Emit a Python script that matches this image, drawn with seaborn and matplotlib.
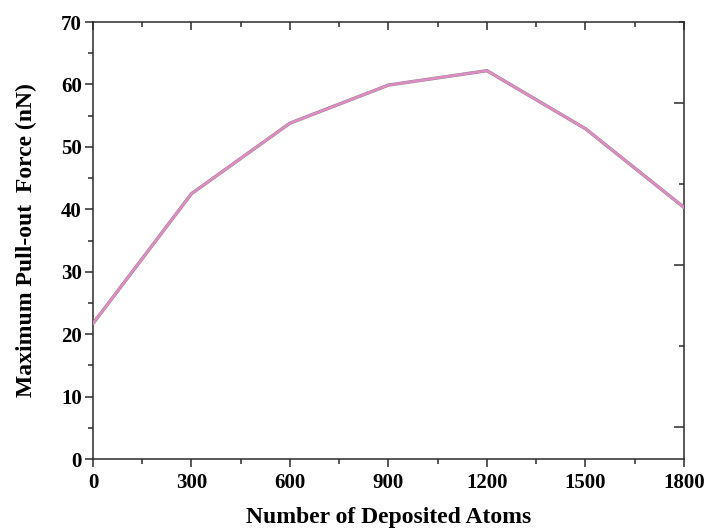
import matplotlib
matplotlib.use("Agg")
import matplotlib.pyplot as plt
import seaborn as sns
import pandas as pd
from matplotlib.ticker import MultipleLocator

# Pull-out force versus number of deposited atoms
atoms = [0, 300, 600, 900, 1200, 1500, 1800]
force = [21.7, 42.5, 53.8, 59.9, 62.2, 52.9, 40.3]

df = pd.DataFrame({"atoms": atoms, "force": force})

sns.set_theme(style="ticks")
plt.rcParams["font.family"] = ["Liberation Serif", "DejaVu Serif"]
plt.rcParams["font.weight"] = "bold"
plt.rcParams["text.color"] = "black"
plt.rcParams["axes.labelcolor"] = "black"

fig = plt.figure(figsize=(7.05, 5.29), dpi=100)
ax = fig.add_axes([0.1319, 0.1323, 0.9702 - 0.1319, 0.9584 - 0.1323])

# thin grey edge under a pink core line
sns.lineplot(data=df, x="atoms", y="force", ax=ax, color="#8c8c78", linewidth=2.4, zorder=3)
sns.lineplot(data=df, x="atoms", y="force", ax=ax, color="#e08ac8", linewidth=1.8, zorder=4)

ax.set_xlim(0, 1800)
ax.set_ylim(0, 70)
ax.xaxis.set_major_locator(MultipleLocator(300))
ax.xaxis.set_minor_locator(MultipleLocator(150))
ax.yaxis.set_major_locator(MultipleLocator(10))
ax.yaxis.set_minor_locator(MultipleLocator(5))

spine_color = "#2b2b2b"
for s in ax.spines.values():
    s.set_visible(True)
    s.set_linewidth(1.1)
    s.set_color(spine_color)

ax.tick_params(axis="both", which="major", direction="out", length=6, width=1.1,
               colors=spine_color, labelsize=15, labelcolor="black")
ax.tick_params(axis="both", which="minor", direction="out", length=3.5, width=1.1,
               colors=spine_color)
ax.tick_params(axis="x", which="major", pad=4)
ax.tick_params(axis="y", which="major", pad=2)
for lab in ax.get_xticklabels() + ax.get_yticklabels():
    lab.set_fontweight("bold")

# top spine ticks point inward
top = ax.secondary_xaxis("top")
top.xaxis.set_major_locator(MultipleLocator(300))
top.xaxis.set_minor_locator(MultipleLocator(150))
top.tick_params(which="major", direction="in", length=6, width=1.1, colors=spine_color, labeltop=False)
top.tick_params(which="minor", direction="in", length=3.5, width=1.1, colors=spine_color)
top.spines["top"].set_visible(False)

# right spine ticks point inward
right = ax.twinx()
right.set_ylim(-0.2, 2.5)
right.yaxis.set_major_locator(MultipleLocator(1))
right.yaxis.set_minor_locator(MultipleLocator(0.5))
right.tick_params(which="major", direction="in", length=7, width=1.1, colors=spine_color, labelright=False)
right.tick_params(which="minor", direction="in", length=3.5, width=1.1, colors=spine_color)
for s in right.spines.values():
    s.set_visible(False)

ax.set_xlabel("Number of Deposited Atoms", fontsize=17, fontweight="bold", labelpad=10, color="black")
ax.set_ylabel("Maximum Pull-out  Force (nN)", fontsize=17, fontweight="bold", labelpad=17, color="black")

fig.savefig("out.png", dpi=100)
